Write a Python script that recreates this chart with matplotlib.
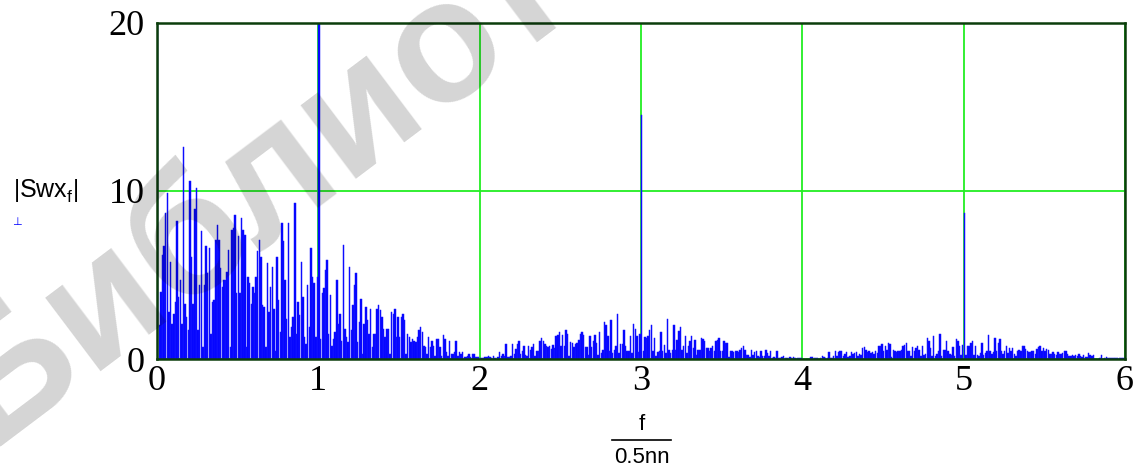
import matplotlib

matplotlib.use("Agg")
import matplotlib.pyplot as plt
import numpy as np
from matplotlib.lines import Line2D

plt.rcParams.update({
    "font.family": "Liberation Serif",
    "mathtext.fontset": "custom",
    "mathtext.rm": "Liberation Sans",
    "mathtext.it": "Liberation Sans",
})

# |Swx_f| spectrum, one list per unit of f/(0.5nn)
nn = 200
seg_0 = [25.0, 2.0, 4.0, 6.2, 6.7, 8.7, 9.9, 2.8, 5.8, 2.1,
         2.7, 3.4, 8.2, 3.7, 4.7, 2.1, 12.6, 3.3, 2.5, 1.7,
         10.6, 6.1, 3.3, 8.9, 10.2, 1.7, 4.4, 7.6, 0.7, 4.4,
         6.7, 5.1, 6.6, 1.5, 3.4, 3.5, 7.1, 8.0, 7.1, 5.4,
         4.3, 4.7, 4.7, 5.2, 6.5, 0.7, 7.7, 7.8, 8.6, 3.9,
         7.3, 3.9, 8.4, 7.7, 7.4, 0.7, 4.9, 4.5, 3.3, 4.3,
         3.9, 4.9, 6.4, 7.1, 6.1, 3.2, 3.1, 0.7, 5.7, 2.8,
         4.3, 5.5, 3.0, 0.5, 6.1, 3.5, 1.6, 8.1, 7.0, 4.7,
         2.4, 8.1, 1.3, 1.9, 2.5, 9.3, 1.5, 3.4, 2.6, 5.8,
         3.7, 1.3, 0.9, 4.4, 1.9, 6.6, 4.9, 4.5, 1.3, 4.9]
seg_1 = [25.0, 1.2, 3.9, 4.2, 5.3, 5.9, 1.5, 3.8, 0.8, 1.2,
         1.6, 4.7, 2.1, 2.7, 1.1, 6.8, 1.8, 1.3, 1.0, 5.5,
         1.7, 3.2, 4.4, 5.1, 1.0, 2.2, 3.6, 0.3, 2.1, 3.1,
         2.3, 1.5, 3.0, 0.7, 1.5, 1.5, 3.0, 3.2, 2.9, 2.5,
         1.8, 1.3, 1.8, 1.8, 0.3, 2.8, 2.7, 3.0, 1.3, 2.5,
         1.3, 2.5, 2.7, 2.3, 0.3, 1.5, 1.3, 1.0, 1.2, 1.1,
         1.0, 1.3, 1.7, 1.9, 1.6, 0.8, 0.7, 0.3, 1.3, 0.7,
         1.1, 0.8, 0.2, 1.2, 1.2, 0.7, 0.2, 1.4, 1.2, 0.4,
         0.2, 1.1, 0.3, 0.3, 0.4, 1.1, 0.2, 0.4, 0.3, 0.4,
         0.1, 0.1, 0.2, 0.3, 0.1, 0.3, 0.3, 0.1, 0.1, 0.1]
seg_2 = [0.05, 0.05, 0.05, 0.1, 0.1, 0.2, 0.1, 0.05, 0.2, 0.05,
         0.0, 0.1, 0.4, 0.2, 0.3, 0.15, 0.9, 0.1, 0.1, 0.2,
         0.9, 0.3, 0.6, 0.9, 1.05, 0.3, 0.5, 0.8, 0.25, 0.2,
         0.8, 0.55, 0.7, 0.9, 0.2, 0.5, 0.5, 1.05, 1.25, 1.1,
         0.9, 0.8, 0.7, 0.75, 0.6, 0.85, 0.65, 1.35, 1.45, 1.6,
         0.8, 1.4, 0.75, 1.7, 1.5, 0.2, 1.0, 0.95, 0.7, 0.9,
         0.95, 1.15, 1.5, 1.6, 1.4, 0.7, 0.7, 0.25, 1.35, 0.7,
         1.05, 1.45, 0.95, 0.25, 1.6, 0.35, 0.55, 2.2, 2.05, 1.35,
         0.45, 2.3, 0.35, 0.55, 0.75, 2.7, 0.35, 0.9, 0.9, 1.75,
         0.8, 0.45, 0.45, 1.35, 0.35, 2.1, 1.8, 1.35, 0.4, 1.5]
seg_3 = [14.5, 0.5, 1.3, 1.25, 1.35, 1.7, 2.0, 0.5, 1.25, 0.2,
         0.4, 0.5, 1.6, 0.5, 0.85, 0.35, 2.4, 0.55, 0.35, 0.55,
         2.0, 0.55, 1.15, 1.65, 1.9, 0.55, 0.75, 1.35, 0.35, 0.75,
         1.05, 1.35, 0.65, 1.15, 0.25, 0.55, 0.55, 1.25, 1.2, 1.05,
         0.65, 0.65, 0.45, 0.65, 0.75, 0.45, 1.1, 1.15, 1.25, 0.5,
         0.5, 1.1, 0.95, 0.95, 0.1, 0.5, 0.5, 0.4, 0.45, 0.45,
         0.4, 0.55, 0.65, 0.75, 0.55, 0.25, 0.25, 0.1, 0.55, 0.25,
         0.4, 0.5, 0.15, 0.1, 0.5, 0.2, 0.15, 0.55, 0.35, 0.15,
         0.5, 0.05, 0.1, 0.05, 0.5, 0.05, 0.05, 0.1, 0.2, 0.05,
         0.05, 0.0, 0.1, 0.05, 0.1, 0.05, 0.0, 0.05, 0.05, 0.05]
seg_4 = [0.02, 0.02, 0.02, 0.02, 0.02, 0.1, 0.1, 0.05, 0.05, 0.05,
         0.02, 0.05, 0.2, 0.1, 0.05, 0.05, 0.4, 0.08, 0.08, 0.15,
         0.5, 0.2, 0.4, 0.45, 0.5, 0.15, 0.3, 0.4, 0.1, 0.15,
         0.4, 0.3, 0.35, 0.4, 0.15, 0.3, 0.25, 0.65, 0.7, 0.55,
         0.4, 0.45, 0.35, 0.4, 0.3, 0.5, 0.35, 0.8, 0.8, 0.9,
         0.5, 0.75, 0.55, 0.95, 0.9, 0.1, 0.55, 0.5, 0.4, 0.5,
         0.5, 0.55, 0.75, 0.85, 0.95, 0.5, 0.45, 0.15, 0.7, 0.5,
         0.65, 0.75, 0.55, 0.15, 0.8, 0.25, 0.3, 1.25, 1.1, 0.65,
         0.2, 1.35, 0.2, 0.3, 0.5, 1.5, 0.2, 0.55, 0.55, 1.05,
         0.5, 0.3, 0.25, 0.7, 0.2, 1.2, 1.05, 0.75, 0.25, 0.85]
seg_5 = [8.7, 0.25, 0.75, 0.75, 0.95, 1.1, 0.25, 0.75, 0.25, 0.2,
         0.35, 0.95, 0.25, 0.35, 0.5, 1.45, 0.45, 0.3, 0.4, 1.25,
         0.45, 0.95, 1.2, 0.5, 0.3, 0.5, 0.75, 0.35, 0.65, 0.45,
         0.65, 0.3, 0.15, 0.5, 0.55, 0.5, 0.75, 0.75, 0.6, 0.45,
         0.4, 0.4, 0.45, 0.5, 0.3, 0.6, 0.7, 0.75, 0.5, 0.65,
         0.5, 0.6, 0.55, 0.3, 0.3, 0.4, 0.3, 0.25, 0.4, 0.3,
         0.3, 0.35, 0.5, 0.45, 0.3, 0.2, 0.15, 0.25, 0.15, 0.25,
         0.2, 0.3, 0.15, 0.1, 0.25, 0.1, 0.1, 0.35, 0.25, 0.2,
         0.25, 0.02, 0.02, 0.02, 0.05, 0.25, 0.02, 0.05, 0.1, 0.05,
         0.05, 0.03, 0.03, 0.03, 0.03, 0.03, 0.03, 0.03, 0.03, 0.03]

x_ticks = [0, 1, 2, 3, 4, 5, 6]
y_ticks = [0, 10, 20]

swx = np.array(seg_0 + seg_1 + seg_2 + seg_3 + seg_4 + seg_5)
f = np.arange(len(swx))
step = 1 / (0.5 * nn)

fig = plt.figure(figsize=(11.45, 4.68), dpi=100)
ax = fig.add_axes([0.1371, 0.2329, 0.8454, 0.718])

ax.bar(f * step, swx, width=step * 0.9, align="edge", color="#0000ff",
       edgecolor="#1a1aff", linewidth=0.35, zorder=2)

ax.set_xlim(0, 6)
ax.set_ylim(0, 20)
ax.set_xticks(x_ticks)
ax.set_yticks(y_ticks)
ax.tick_params(length=0, labelsize=26, pad=4)
ax.tick_params(axis="y", pad=9)
ax.grid(True, color="#22ee22", lw=1.3, zorder=1)
ax.set_axisbelow(True)
for sp in ax.spines.values():
    sp.set_color("#0b3d0b")
    sp.set_linewidth(1.8)
    sp.set_zorder(3)

# y label |Swx_f| with trace marker
fig.text(0.040, 0.592, r"$\left|\mathrm{Swx_f}\right|$", fontsize=18,
         ha="center", va="center")
fig.text(0.0105, 0.525, "\u22a5", fontsize=8, color="#0000ff",
         family="DejaVu Sans", ha="left", va="center")

# x label f / 0.5nn
cx = 0.5604
fig.text(cx, 0.093, "f", fontsize=16, family="Liberation Sans",
         ha="center", va="center")
fig.add_artist(Line2D([cx - 0.0255, cx + 0.0255], [0.06, 0.06],
                      color="black", lw=1.2, transform=fig.transFigure))
fig.text(cx, 0.022, "0.5nn", fontsize=16, family="Liberation Sans",
         ha="center", va="center")

# library stamp across the sheet
fig.text(0.012, -0.03, "Библиотека БГУИР", fontsize=125, fontweight="bold",
         family="Liberation Sans", color="black", alpha=0.17,
         rotation=37, rotation_mode="anchor", ha="left", va="bottom",
         zorder=10)

fig.savefig("out.png", dpi=100)
